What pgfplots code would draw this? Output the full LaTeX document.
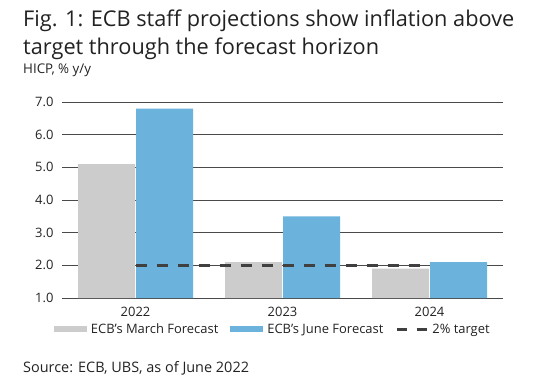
\documentclass[border=0pt]{standalone}
\usepackage{fontspec}
\setmainfont{Open Sans}
\usepackage{pgfplots}
\pgfplotsset{compat=1.18}
\definecolor{marchgrey}{HTML}{CCCCCC}
\definecolor{juneblue}{HTML}{6BB3DC}
\definecolor{dashgrey}{HTML}{404040}
\definecolor{gridgrey}{HTML}{4A4A4A}
\definecolor{txt}{HTML}{222222}
\begin{document}
\begin{tikzpicture}
\useasboundingbox (-62bp,-84bp) rectangle (476bp,298bp);
\begin{axis}[
  at={(0,0)}, anchor=south west,
  scale only axis, width=441bp, height=196bp,
  xmin=-0.5, xmax=2.5, ymin=1, ymax=7,
  xtick={0,1,2}, xticklabels={2022,2023,2024},
  ytick={1,2,3,4,5,6,7},
  /pgf/number format/assume math mode=true,
  yticklabel style={/pgf/number format/.cd,fixed,fixed zerofill,precision=1,/tikz/.cd, xshift=-5bp},
  xticklabel style={yshift=-6bp},
  ticklabel style={font=\fontsize{13}{15}\selectfont, text=txt},
  axis line style={draw=none},
  major tick length=0pt,
  ymajorgrids, grid style={gridgrey, line width=0.9bp},
  ybar, bar width=57bp,
  legend style={at={(0.478,-0.16)}, anchor=center, draw=none, fill=none,
     legend columns=3, font=\fontsize{13}{15}\selectfont, text=txt,
     /tikz/every odd column/.append style={column sep=2bp},
     /tikz/every even column/.append style={column sep=10bp},
     inner sep=0pt},
  legend cell align=left,
  clip=true,
]
\addplot[fill=marchgrey, draw=none, bar shift=-29bp,
  legend image code/.code={\fill[marchgrey] (0bp,-3bp) rectangle (33bp,3bp);}]
  coordinates {(0,5.1) (1,2.1) (2,1.9)};
\addlegendentry{ECB's March Forecast}
\addplot[fill=juneblue, draw=none, bar shift=29bp,
  legend image code/.code={\fill[juneblue] (0bp,-3bp) rectangle (33bp,3bp);}]
  coordinates {(0,6.8) (1,3.5) (2,2.1)};
\addlegendentry{ECB's June Forecast}
\addplot[sharp plot, draw=dashgrey, line width=3bp, dash pattern=on 11.5bp off 9.5bp,
  legend image code/.code={\draw[dashgrey, line width=3bp, dash pattern=on 10bp off 10bp] (0bp,0bp) -- (30bp,0bp);}]
  coordinates {(0,2) (2,2)};
\addlegendentry{2\% target}
\end{axis}
\node[anchor=base west, font=\fontsize{21.8}{26}\selectfont, text=txt, inner sep=0pt] at (-39bp,271bp) {Fig. 1: ECB staff projections show inflation above};
\node[anchor=base west, font=\fontsize{21.8}{26}\selectfont, text=txt, inner sep=0pt] at (-39bp,243bp) {target through the forecast horizon};
\node[anchor=base west, font=\fontsize{13.4}{15}\selectfont, text=txt, inner sep=0pt] at (-39bp,224bp) {HICP, \% y/y};
\node[anchor=base west, font=\fontsize{14.5}{17}\selectfont, text=txt, inner sep=0pt] at (-39bp,-74bp) {Source: ECB, UBS, as of June 2022};
\end{tikzpicture}
\end{document}
